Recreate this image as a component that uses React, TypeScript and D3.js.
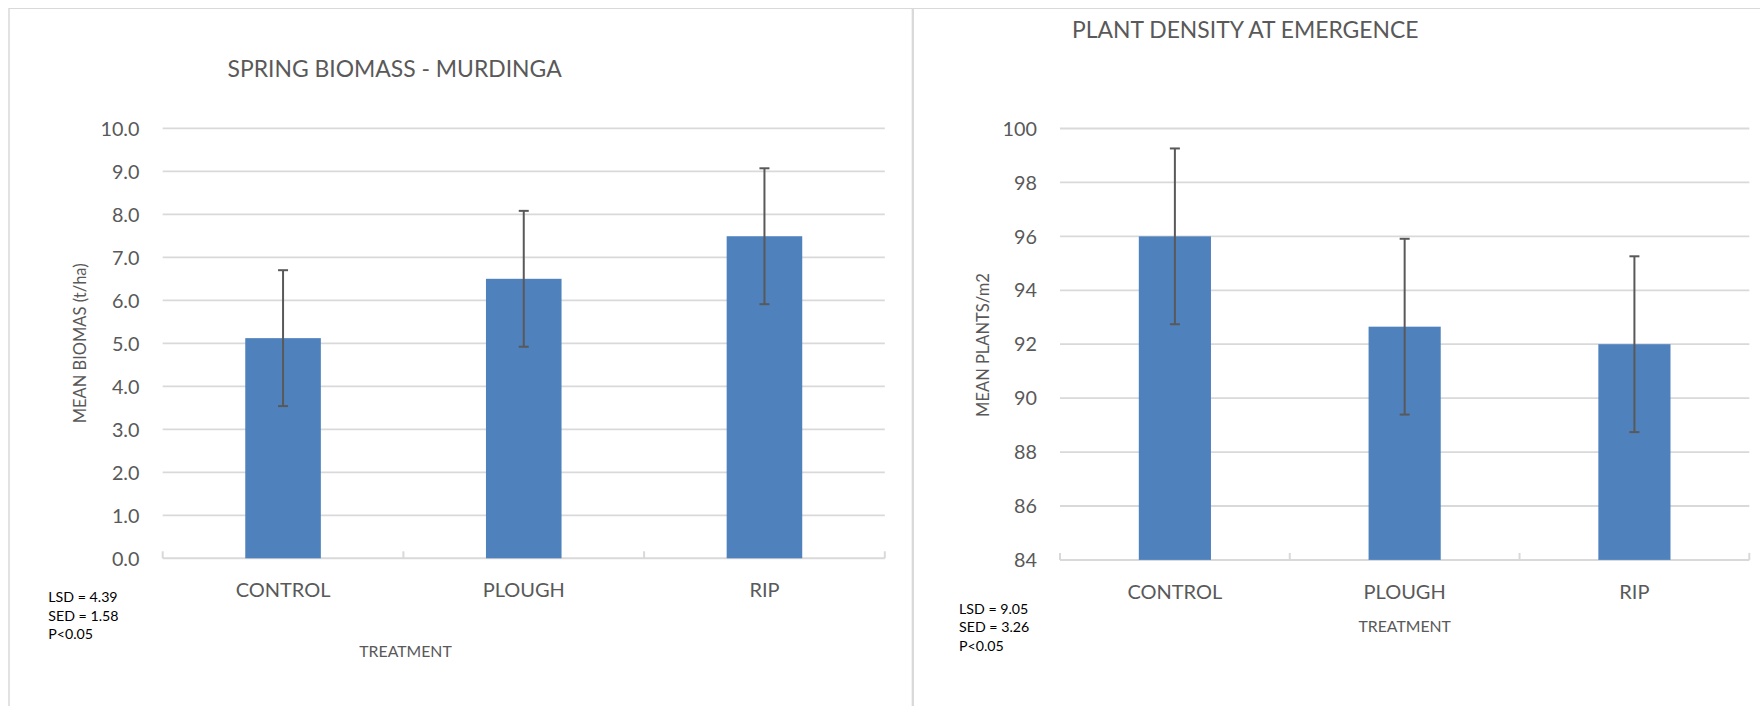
import React from "react";
import * as d3 from "d3";

const categories = ["CONTROL", "PLOUGH", "RIP"];
const biomassMeans = [5.12, 6.5, 7.49];
const biomassErrors = [1.58, 1.58, 1.58];
const biomassTicks = [0, 1, 2, 3, 4, 5, 6, 7, 8, 9, 10];
const densityMeans = [96.0, 92.65, 92.0];
const densityErrors = [3.26, 3.26, 3.26];
const densityTicks = [84, 86, 88, 90, 92, 94, 96, 98, 100];
const biomassStats = ["LSD = 4.39", "SED = 1.58", "P<0.05"];
const densityStats = ["LSD = 9.05", "SED = 3.26", "P<0.05"];

const FONT = "Lato, 'Open Sans', sans-serif";
const GREY = "#595959";
const GRID = "#d9d9d9";
const BAR = "#4f81bd";

type PanelProps = {
  title: string;
  titleX: number;
  titleY: number;
  yLabel: string;
  yLabelX: number;
  yLabelY: number;
  means: number[];
  errors: number[];
  ticks: number[];
  fmt: (v: number) => string;
  x0: number;
  x1: number;
  yTop: number;
  yBottom: number;
  tickLabelX: number;
  stats: string[];
  statsX: number;
  statsY: number;
  treatX: number;
  treatY: number;
};

function Panel(p: PanelProps) {
  const y = d3
    .scaleLinear()
    .domain([p.ticks[0], p.ticks[p.ticks.length - 1]])
    .range([p.yBottom, p.yTop]);
  const x = d3.scaleBand<string>().domain(categories).range([p.x0, p.x1]).padding(0);
  const bw = x.bandwidth() * 0.314;
  const capW = 10;
  const sepXs = [p.x0, ...categories.map((c) => (x(c) as number) + x.bandwidth())];
  return (
    <g>
      <text
        x={p.titleX}
        y={p.titleY}
        textAnchor="middle"
        fontFamily={FONT}
        fontSize={22.9}
        fill={GREY}
      >
        {p.title}
      </text>
      {p.ticks.map((t) => (
        <g key={t}>
          {t !== p.ticks[0] && (
            <line x1={p.x0} x2={p.x1} y1={y(t)} y2={y(t)} stroke={GRID} strokeWidth={1.8} />
          )}
          <text
            x={p.tickLabelX}
            y={y(t) + 7.2}
            textAnchor="end"
            fontFamily={FONT}
            fontSize={19.8}
            fill={GREY}
          >
            {p.fmt(t)}
          </text>
        </g>
      ))}
      <line x1={p.x0} x2={p.x1} y1={p.yBottom} y2={p.yBottom} stroke={GRID} strokeWidth={2} />
      {sepXs.map((sx, i) => (
        <line key={i} x1={sx} x2={sx} y1={p.yBottom} y2={p.yBottom - 7} stroke={GRID} strokeWidth={2} />
      ))}
      {categories.map((c, i) => {
        const cx = (x(c) as number) + x.bandwidth() / 2;
        const v = p.means[i];
        const e = p.errors[i];
        return (
          <g key={c}>
            <rect x={cx - bw / 2} y={y(v)} width={bw} height={p.yBottom - y(v)} fill={BAR} />
            <line x1={cx} x2={cx} y1={y(v + e)} y2={y(v - e)} stroke={GREY} strokeWidth={2} />
            <line x1={cx - capW / 2} x2={cx + capW / 2} y1={y(v + e)} y2={y(v + e)} stroke={GREY} strokeWidth={2} />
            <line x1={cx - capW / 2} x2={cx + capW / 2} y1={y(v - e)} y2={y(v - e)} stroke={GREY} strokeWidth={2} />
            <text
              x={cx}
              y={p.yBottom + 39}
              textAnchor="middle"
              fontFamily={FONT}
              fontSize={20}
              fill={GREY}
            >
              {c}
            </text>
          </g>
        );
      })}
      <text
        transform={`translate(${p.yLabelX},${p.yLabelY}) rotate(-90)`}
        textAnchor="middle"
        fontFamily={FONT}
        fontSize={16.5}
        fill={GREY}
      >
        {p.yLabel}
      </text>
      <text
        x={p.treatX}
        y={p.treatY}
        textAnchor="middle"
        fontFamily={FONT}
        fontSize={15.8}
        fill={GREY}
      >
        TREATMENT
      </text>
      {p.stats.map((s, i) => (
        <text
          key={i}
          x={p.statsX}
          y={p.statsY + i * 18.8}
          fontFamily={FONT}
          fontSize={14.2}
          fill="#000"
        >
          {s}
        </text>
      ))}
    </g>
  );
}

export default function App() {
  return (
    <svg
      width={1760}
      height={706}
      style={{ position: "absolute", left: 0, top: 0, display: "block", background: "#fff" }}
    >
      <rect x={0} y={0} width={1760} height={706} fill="#fff" />
      <line x1={9} x2={1760} y1={8.5} y2={8.5} stroke={GRID} strokeWidth={1.2} />
      <line x1={9} x2={9} y1={8} y2={706} stroke={GRID} strokeWidth={1.5} />
      <line x1={912.8} x2={912.8} y1={8} y2={706} stroke={GRID} strokeWidth={2.3} />
      <Panel
        title="SPRING BIOMASS - MURDINGA"
        titleX={394.6}
        titleY={77.3}
        yLabel="MEAN BIOMAS (t/ha)"
        yLabelX={86}
        yLabelY={343.3}
        means={biomassMeans}
        errors={biomassErrors}
        ticks={biomassTicks}
        fmt={d3.format(".1f")}
        x0={162.7}
        x1={884.8}
        yTop={128.3}
        yBottom={558.3}
        tickLabelX={139.5}
        stats={biomassStats}
        statsX={48.3}
        statsY={601.7}
        treatX={405.5}
        treatY={656.7}
      />
      <Panel
        title="PLANT DENSITY AT EMERGENCE"
        titleX={1245.3}
        titleY={37.5}
        yLabel="MEAN PLANTS/m2"
        yLabelX={989}
        yLabelY={345}
        means={densityMeans}
        errors={densityErrors}
        ticks={densityTicks}
        fmt={d3.format("d")}
        x0={1060}
        x1={1749.3}
        yTop={128.5}
        yBottom={559.9}
        tickLabelX={1037}
        stats={densityStats}
        statsX={959}
        statsY={613.5}
        treatX={1404.7}
        treatY={632}
      />
    </svg>
  );
}
